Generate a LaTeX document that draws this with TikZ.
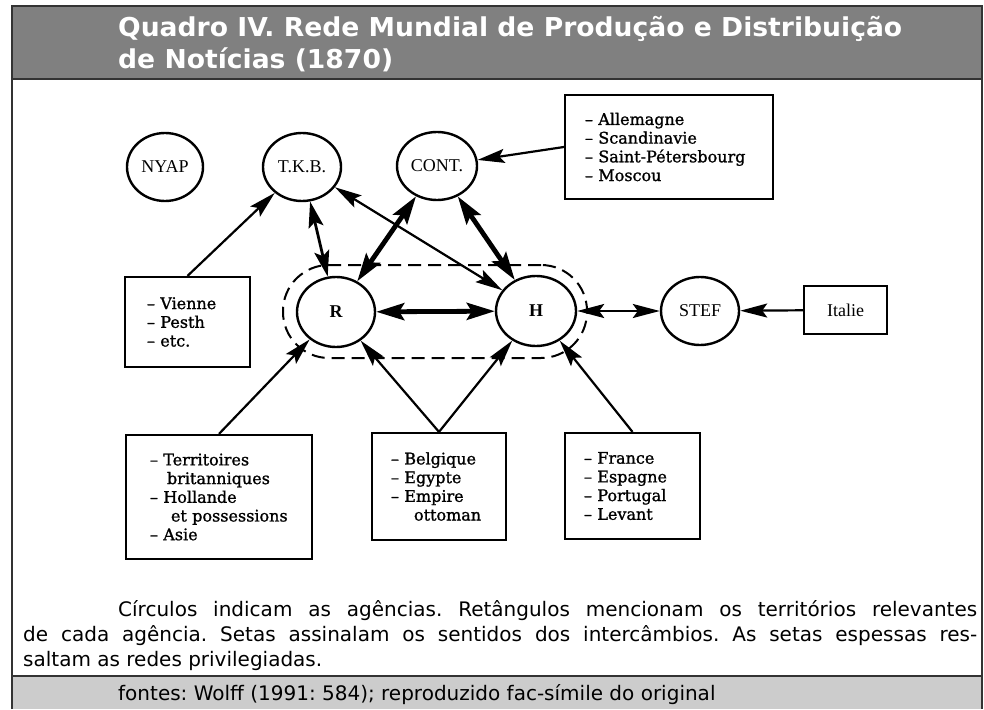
\documentclass[tikz,border=0pt]{standalone}
\usepackage{fontspec}
\usepackage{graphicx}
\setmainfont{Liberation Serif}
\newfontfamily\boxfont[FakeBold=1.2]{DejaVu Serif}
\newfontfamily\capfont{DejaVu Sans}
\usetikzlibrary{arrows.meta,shapes.geometric}
\definecolor{titlegray}{RGB}{128,128,128}
\definecolor{footgray}{RGB}{204,204,204}
\definecolor{framegray}{RGB}{51,51,51}
\begin{document}
\begin{tikzpicture}[x=1pt,y=-1pt,
  agency/.style={ellipse, draw, line width=2.4pt, inner sep=0pt, font=\fontsize{18}{20}\selectfont},
  region/.style={draw, line width=2.2pt, inner ysep=0pt, font=\boxfont\fontsize{16}{18.7}\selectfont, align=left},
  arr/.style={line width=2.2pt, -{Stealth[length=27pt,width=14pt,inset=5pt]}},
  darr/.style={line width=2.2pt, {Stealth[length=27pt,width=14pt,inset=5pt]}-{Stealth[length=27pt,width=14pt,inset=5pt]}},
  medarr/.style={line width=2.8pt, {Stealth[length=26pt,width=15pt,inset=5pt]}-{Stealth[length=26pt,width=15pt,inset=5pt]}},
  thickarr/.style={line width=4.8pt, {Stealth[length=28pt,width=17pt,inset=5pt]}-{Stealth[length=28pt,width=17pt,inset=5pt]}},
  captext/.style={anchor=base west, inner sep=0pt, font=\capfont\fontsize{20}{25}\selectfont\frenchspacing}]
\useasboundingbox (0,0) rectangle (984,709);
\fill[white] (0,0) rectangle (984,709);
% frame, title bar, footer
\fill[titlegray] (12,6) rectangle (982,79);
\fill[footgray] (12,676) rectangle (982,709);
\draw[framegray, line width=1.5pt] (12,709) -- (12,6) -- (982,6) -- (982,709);
\draw[framegray, line width=1.5pt] (12,79) -- (982,79);
\draw[framegray, line width=1.5pt] (12,676) -- (982,676);
% title
\node[anchor=base west, inner sep=0pt, text=white, font=\capfont\bfseries\fontsize{26}{31}\selectfont] (title) at (118,37)
  {\resizebox{784pt}{\height}{\begin{tabular}[t]{@{}l@{}}Quadro IV. Rede Mundial de Produção e Distribuição\\de Notícias (1870)\end{tabular}}};
% grouping of R and H
\node[draw, line width=2pt, dash pattern=on 13pt off 7pt, rounded corners=46pt, minimum width=304pt, minimum height=93pt, inner sep=0pt] (group) at (435,311.5) {};
% agencies
\node[agency, minimum width=76pt, minimum height=68pt] (nyap) at (165,167) {NYAP};
\node[agency, minimum width=78pt, minimum height=68pt] (tkb) at (302,167) {T.K.B.};
\node[agency, minimum width=80pt, minimum height=68pt] (cont) at (437,166) {CONT.};
\node[agency, minimum width=78pt, minimum height=70pt, font=\fontsize{18}{20}\selectfont\bfseries] (r) at (336,312) {R};
\node[agency, minimum width=80pt, minimum height=70pt, font=\fontsize{18}{20}\selectfont\bfseries] (h) at (536,311) {H};
\node[agency, minimum width=78pt, minimum height=68pt] (stef) at (700,311) {STEF};
% regions
\node[region, minimum width=208pt, minimum height=104pt, text width=168pt, inner xsep=20pt] (allem) at (669,147)
  {– Allemagne\\– Scandinavie\\– Saint-Pétersbourg\\– Moscou};
\node[region, minimum width=125pt, minimum height=90pt, text width=81pt, inner xsep=22pt] (vienne) at (187.5,322)
  {– Vienne\\– Pesth\\– etc.};
\node[region, minimum width=186pt, minimum height=124pt, text width=138pt, inner xsep=24pt] (terr) at (219,497)
  {– Territoires\\\hspace*{17pt}britanniques\\– Hollande\\\hspace*{21pt}et possessions\\– Asie};
\node[region, minimum width=134pt, minimum height=107pt, text width=96pt, inner xsep=19pt] (belg) at (439,486.5)
  {– Belgique\\– Egypte\\– Empire\\\hspace*{23pt}ottoman};
\node[region, minimum width=135pt, minimum height=106pt, text width=97pt, inner xsep=19pt] (fran) at (632.5,486)
  {– France\\– Espagne\\– Portugal\\– Levant};
\node[draw, line width=2.2pt, minimum width=83pt, minimum height=48pt, inner sep=0pt, font=\fontsize{18}{20}\selectfont] (italie) at (845.5,310) {Italie};
% connectors
\draw[arr] (allem.west) -- (cont);
\draw[arr] (vienne.north) -- (tkb);
\draw[medarr] (tkb) -- (r);
\draw[thickarr] (cont) -- (r);
\draw[thickarr] (cont) -- (h);
\draw[darr] (h) -- (tkb);
\draw[thickarr] (r) -- (h);
\draw[darr] (h) -- (stef);
\draw[arr] (italie) -- (stef);
\draw[arr] (terr.north) -- (r);
\draw[arr] (belg.north) -- (r);
\draw[arr] (belg.north) -- (h);
\draw[arr] (fran.north) -- (h);
% caption and source
\node[captext] (cap1) at (118,616) {\makebox[859pt][s]{Círculos indicam as agências. Retângulos mencionam os territórios relevantes}};
\node[captext] (cap2) at (23,641) {\makebox[954pt][s]{de cada agência. Setas assinalam os sentidos dos intercâmbios. As setas espessas res-}};
\node[captext] (cap3) at (23,666) {saltam as redes privilegiadas.};
\node[captext] (source) at (118,700) {fontes: Wolff (1991: 584); reproduzido fac-símile do original};
\end{tikzpicture}
\end{document}
